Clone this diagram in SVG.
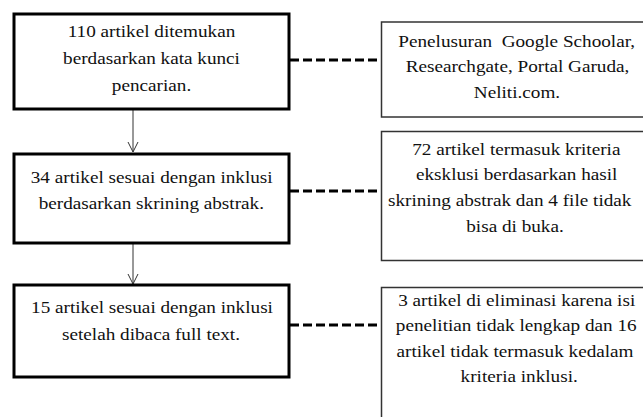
<svg xmlns="http://www.w3.org/2000/svg" width="643" height="417" viewBox="0 0 643 417">
<defs>
<style>
.main{fill:#fff;stroke:#000;stroke-width:3}
.side{fill:#fff;stroke:#333;stroke-width:1.5}
.dash{stroke:#000;stroke-width:3;stroke-dasharray:9,4;fill:none}
.arr{stroke:#333;stroke-width:1;fill:none}
</style>
<marker id="vh" markerWidth="12" markerHeight="12" refX="11" refY="6" orient="auto" markerUnits="userSpaceOnUse" viewBox="0 0 12 12">
<path d="M1,1 L11,6 L1,11" fill="none" stroke="#333" stroke-width="1"/>
</marker>
</defs>
<rect width="643" height="417" fill="#fff"/>
<g id="connectors">
<line class="arr" x1="133" y1="109" x2="133" y2="152" marker-end="url(#vh)"/>
<line class="arr" x1="133" y1="243" x2="133" y2="284" marker-end="url(#vh)"/>
<line class="dash" x1="290" y1="60" x2="381" y2="60"/>
<line class="dash" x1="290" y1="191" x2="381" y2="191"/>
<line class="dash" x1="290" y1="325" x2="381" y2="325"/>
</g>
<g id="n1">
<rect class="main" x="14" y="14" width="275" height="95"/>
<text font-family="Liberation Serif" font-size="16" fill="#111" text-anchor="middle" transform="translate(151.5,0) scale(1.2,1)" x="0" y="37">110 artikel ditemukan</text>
<text font-family="Liberation Serif" font-size="16" fill="#111" text-anchor="middle" transform="translate(151.5,0) scale(1.2,1)" x="0" y="64.5">berdasarkan kata kunci</text>
<text font-family="Liberation Serif" font-size="16" fill="#111" text-anchor="middle" transform="translate(151.5,0) scale(1.2,1)" x="0" y="91.5">pencarian.</text>
</g>
<g id="n2">
<rect class="main" x="14" y="154" width="275" height="89"/>
<text font-family="Liberation Serif" font-size="16" fill="#111" text-anchor="middle" transform="translate(151.7,0) scale(1.2,1)" x="0" y="183">34 artikel sesuai dengan inklusi</text>
<text font-family="Liberation Serif" font-size="16" fill="#111" text-anchor="middle" transform="translate(151.3,0) scale(1.2,1)" x="0" y="209">berdasarkan skrining abstrak.</text>
</g>
<g id="n3">
<rect class="main" x="14" y="285" width="275" height="92"/>
<text font-family="Liberation Serif" font-size="16" fill="#111" text-anchor="middle" transform="translate(152,0) scale(1.2,1)" x="0" y="313">15 artikel sesuai dengan inklusi</text>
<text font-family="Liberation Serif" font-size="16" fill="#111" text-anchor="middle" transform="translate(151,0) scale(1.2,1)" x="0" y="340.5">setelah dibaca full text.</text>
</g>
<g id="r1">
<rect class="side" x="381.5" y="22" width="280" height="95"/>
<text font-family="Liberation Serif" font-size="16" fill="#111" text-anchor="middle" transform="translate(516.7,0) scale(1.2,1)" x="0" y="47" xml:space="preserve">Penelusuran  Google Schoolar,</text>
<text font-family="Liberation Serif" font-size="16" fill="#111" text-anchor="middle" transform="translate(517.5,0) scale(1.2,1)" x="0" y="72">Researchgate, Portal Garuda,</text>
<text font-family="Liberation Serif" font-size="16" fill="#111" text-anchor="middle" transform="translate(517,0) scale(1.2,1)" x="0" y="98">Neliti.com.</text>
</g>
<g id="r2">
<rect class="side" x="381.5" y="131.5" width="280" height="129"/>
<text font-family="Liberation Serif" font-size="16" fill="#111" text-anchor="middle" transform="translate(516.3,0) scale(1.2,1)" x="0" y="155">72 artikel termasuk kriteria</text>
<text font-family="Liberation Serif" font-size="16" fill="#111" text-anchor="middle" transform="translate(516.7,0) scale(1.2,1)" x="0" y="180">eksklusi berdasarkan hasil</text>
<text font-family="Liberation Serif" font-size="16" fill="#111" text-anchor="middle" transform="translate(509.7,0) scale(1.2,1)" x="0" y="206.5">skrining abstrak dan 4 file tidak</text>
<text font-family="Liberation Serif" font-size="16" fill="#111" text-anchor="middle" transform="translate(515,0) scale(1.2,1)" x="0" y="232">bisa di buka.</text>
</g>
<g id="r3">
<rect class="side" x="381.5" y="287.5" width="280" height="140"/>
<text font-family="Liberation Serif" font-size="16" fill="#111" text-anchor="middle" transform="translate(516.7,0) scale(1.2,1)" x="0" y="306.5">3 artikel di eliminasi karena isi</text>
<text font-family="Liberation Serif" font-size="16" fill="#111" text-anchor="middle" transform="translate(516.2,0) scale(1.2,1)" x="0" y="331.5">penelitian tidak lengkap dan 16</text>
<text font-family="Liberation Serif" font-size="16" fill="#111" text-anchor="middle" transform="translate(515,0) scale(1.2,1)" x="0" y="357">artikel tidak termasuk kedalam</text>
<text font-family="Liberation Serif" font-size="16" fill="#111" text-anchor="middle" transform="translate(519.2,0) scale(1.2,1)" x="0" y="382.5">kriteria inklusi.</text>
</g>
</svg>
